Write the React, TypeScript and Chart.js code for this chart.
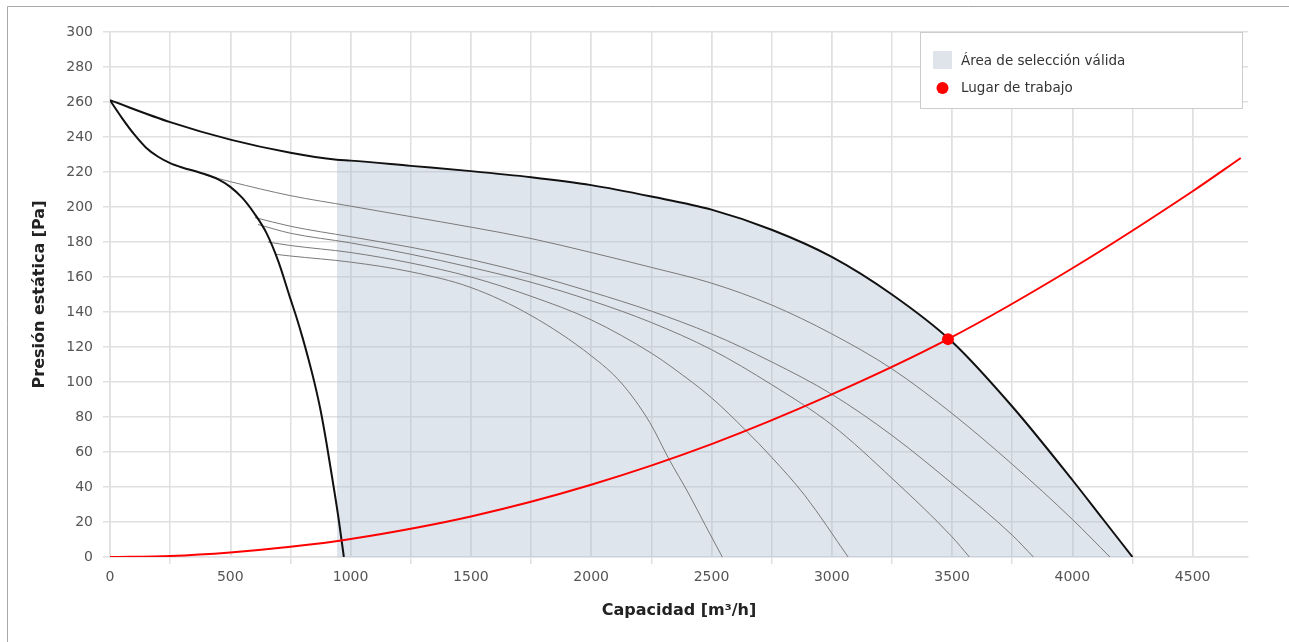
import { useEffect, useRef } from 'react';
import { Chart, registerables } from 'chart.js';

Chart.register(...registerables);

// ---- Data (m³/h, Pa) ----
const xTickValues = [0, 500, 1000, 1500, 2000, 2500, 3000, 3500, 4000, 4500];
const xMinorTickValues = [0, 250, 500, 750, 1000, 1250, 1500, 1750, 2000, 2250, 2500, 2750, 3000, 3250, 3500, 3750, 4000, 4250, 4500];

const maxCurveX = [0, 250, 500, 750, 943, 1000, 1250, 1500, 1750, 2000, 2250, 2500, 2750, 3000, 3250, 3500, 3750, 4000, 4125, 4250];
const maxCurveY = [261, 248.5, 238.5, 231, 227, 226.5, 223.5, 220.5, 217, 212.5, 206, 198.5, 187, 171.5, 150, 123, 86, 44, 22, 0];

const minCurveX = [0, 50, 100, 150, 200, 250, 300, 375, 450, 500, 550, 600, 650, 700, 750, 775, 800, 825, 850, 875, 900, 925, 950, 972];
const minCurveY = [261, 250.8, 241.6, 233.9, 228.7, 225.1, 222.6, 219.6, 215.8, 211.5, 205.2, 196.3, 185.2, 168.8, 147.5, 137, 125.5, 113, 99.5, 84, 65, 44, 22, 0];

const speed1X = [395, 500, 750, 1000, 1250, 1500, 1750, 2000, 2250, 2500, 2750, 3000, 3250, 3500, 3750, 4000, 4156];
const speed1Y = [218.3, 214.5, 206.5, 200.5, 194.5, 188.5, 182, 174, 165.5, 156.5, 144, 127.5, 107.5, 82, 53, 21.5, 0];

const speed2X = [602, 750, 1000, 1250, 1500, 1750, 2000, 2250, 2500, 2750, 3000, 3250, 3500, 3750, 3838];
const speed2Y = [194, 189, 183, 177, 170, 161.5, 151.5, 140.5, 127.5, 111.5, 93, 69.5, 42, 12.5, 0];

const speed3X = [615, 750, 1000, 1250, 1500, 1750, 2000, 2250, 2500, 2750, 3000, 3250, 3500, 3572];
const speed3Y = [190, 185, 179.5, 173, 165.5, 157, 146.5, 134, 118.5, 98.5, 75.5, 45, 11.5, 0];

const speed4X = [656, 750, 1000, 1250, 1500, 1750, 2000, 2250, 2340, 2500, 2645, 2750, 2889, 3068];
const speed4Y = [180, 178, 174, 168, 160, 149, 135.5, 116.5, 108, 91, 72, 57, 35, 0];

const speed5X = [686, 750, 1000, 1250, 1500, 1750, 2000, 2125, 2243, 2323, 2406, 2475, 2545];
const speed5Y = [173, 172, 168.5, 163, 154, 138, 115, 99.5, 77, 56, 36, 18, 0];

const systemX = [0, 250, 500, 750, 1000, 1500, 2000, 2500, 3000, 3483, 4000, 4500, 4700];
const systemY = [0, 0.6, 2.6, 5.8, 10.3, 23.2, 41.3, 64.5, 92.9, 124.5, 165, 209, 228];

const selectionStartX = 943;
const workPointX = [3483];
const workPointY = [124.5];

const legendLabels = ['Área de selección válida', 'Lugar de trabajo'];
const xTitle = 'Capacidad [m³/h]';
const yTitle = 'Presión estática [Pa]';

const zip = (xs: number[], ys: number[]) => xs.map((x, i) => ({ x, y: ys[i] }));

const FONT = "'DejaVu Sans', Verdana, sans-serif";
const GRID = '#e0e0e0';
const FILL = 'rgba(170,186,208,0.38)';
const TICK_TEXT = '#555555';
const NONE = 'rgba(0,0,0,0)';

const framePlugin = {
  id: 'frame',
  beforeDraw(chart: any) {
    const ctx = chart.ctx;
    ctx.save();
    ctx.fillStyle = '#ffffff';
    ctx.fillRect(0, 0, chart.width, chart.height);
    ctx.strokeStyle = '#a8a8a8';
    ctx.lineWidth = 1;
    ctx.beginPath();
    ctx.moveTo(7.5, chart.height);
    ctx.lineTo(7.5, 6.5);
    ctx.lineTo(chart.width, 6.5);
    ctx.stroke();
    ctx.restore();
  },
};

const legendPlugin = {
  id: 'boxLegend',
  afterDraw(chart: any) {
    const ctx = chart.ctx;
    const area = chart.chartArea;
    const right = area.right - 6;
    const left = right - 322;
    const top = area.top;
    const h = 76;
    ctx.save();
    ctx.fillStyle = '#ffffff';
    ctx.fillRect(left, top, right - left, h);
    ctx.strokeStyle = '#cccccc';
    ctx.lineWidth = 1;
    ctx.strokeRect(left + 0.5, top + 0.5, right - left, h);
    ctx.fillStyle = '#dfe4eb';
    ctx.fillRect(left + 13, top + 19, 19, 18);
    ctx.fillStyle = '#ff0000';
    ctx.beginPath();
    ctx.arc(left + 22.5, top + 56, 6, 0, Math.PI * 2);
    ctx.fill();
    ctx.fillStyle = '#333333';
    ctx.font = `13.5px ${FONT}`;
    ctx.textBaseline = 'middle';
    ctx.fillText(legendLabels[0], left + 41, top + 29);
    ctx.fillText(legendLabels[1], left + 41, top + 56);
    ctx.restore();
  },
};

export default function App() {
  const ref = useRef<HTMLCanvasElement>(null);
  useEffect(() => {
    const canvas = ref.current!;
    const thin = (xs: number[], ys: number[]) => ({
      data: zip(xs, ys),
      borderColor: '#7a7a7a',
      borderWidth: 1,
      pointRadius: 0,
      fill: false,
      cubicInterpolationMode: 'monotone' as const,
      order: 3,
    });
    const fillX = maxCurveX.filter((x) => x >= selectionStartX);
    const fillY = maxCurveY.filter((_, i) => maxCurveX[i] >= selectionStartX);
    const isMajor = (v: number) => xTickValues.includes(v);
    const chart = new Chart(canvas, {
      type: 'line',
      data: {
        datasets: [
          {
            data: zip(workPointX, workPointY),
            showLine: false,
            pointRadius: 6,
            pointHoverRadius: 6,
            pointBackgroundColor: '#ff0000',
            pointBorderWidth: 0,
            borderColor: '#ff0000',
            order: 0,
          },
          {
            data: zip(systemX, systemY),
            borderColor: '#ff0000',
            borderWidth: 2,
            pointRadius: 0,
            fill: false,
            cubicInterpolationMode: 'monotone',
            order: 1,
          },
          {
            data: zip(maxCurveX, maxCurveY),
            borderColor: '#111111',
            borderWidth: 2,
            pointRadius: 0,
            fill: false,
            cubicInterpolationMode: 'monotone',
            order: 2,
          },
          {
            data: zip(minCurveX, minCurveY),
            borderColor: '#111111',
            borderWidth: 2,
            pointRadius: 0,
            fill: false,
            cubicInterpolationMode: 'monotone',
            order: 2,
          },
          thin(speed1X, speed1Y),
          thin(speed2X, speed2Y),
          thin(speed3X, speed3Y),
          thin(speed4X, speed4Y),
          thin(speed5X, speed5Y),
          {
            data: zip(fillX, fillY),
            borderWidth: 0,
            borderColor: NONE,
            backgroundColor: FILL,
            pointRadius: 0,
            fill: 'origin',
            cubicInterpolationMode: 'monotone',
            order: 4,
          },
        ],
      },
      options: {
        responsive: false,
        animation: false,
        devicePixelRatio: 1,
        events: [],
        layout: { padding: { left: 0, top: 32, right: 41, bottom: 0 } },
        plugins: {
          legend: { display: false },
          tooltip: { enabled: false },
        },
        scales: {
          xMinor: {
            type: 'linear',
            position: 'bottom',
            axis: 'x',
            weight: 0,
            min: 0,
            max: 4730,
            afterFit: (s: any) => {
              s.height = 0;
            },
            afterBuildTicks: (s: any) => {
              s.ticks = xMinorTickValues.map((value) => ({ value }));
            },
            ticks: { display: false, autoSkip: false },
            grid: {
              color: GRID,
              lineWidth: 1.5,
              tickLength: 7,
              tickColor: (c: any) => (c.tick && isMajor(c.tick.value) ? NONE : GRID),
            },
            border: { display: false },
          },
          x: {
            type: 'linear',
            position: 'bottom',
            weight: 1,
            min: 0,
            max: 4730,
            afterFit: (s: any) => {
              s.height = 85;
            },
            afterBuildTicks: (s: any) => {
              s.ticks = xTickValues.map((value) => ({ value }));
            },
            ticks: {
              autoSkip: false,
              maxRotation: 0,
              minRotation: 0,
              padding: 5,
              color: TICK_TEXT,
              font: { family: FONT, size: 14 },
              callback: (v: any) => String(v),
            },
            grid: {
              color: GRID,
              lineWidth: 1.5,
              tickLength: 7,
              tickColor: NONE,
            },
            border: { color: GRID, width: 1.5 },
            title: {
              display: true,
              text: xTitle,
              color: '#222222',
              font: { family: FONT, size: 16, weight: 'bold' },
              padding: { top: 0, bottom: 22 },
            },
          },
          y: {
            type: 'linear',
            min: 0,
            max: 300,
            afterFit: (s: any) => {
              s.width = 110;
            },
            ticks: {
              stepSize: 20,
              padding: 10,
              color: TICK_TEXT,
              font: { family: FONT, size: 14 },
            },
            grid: { color: GRID, lineWidth: 1.5, tickLength: 7 },
            border: { color: GRID, width: 1.5 },
            title: {
              display: true,
              text: yTitle,
              color: '#222222',
              font: { family: FONT, size: 16, weight: 'bold' },
              padding: { top: 30, bottom: 0 },
            },
          },
        },
      },
      plugins: [framePlugin, legendPlugin],
    });
    return () => chart.destroy();
  }, []);
  return (
    <div style={{ position: 'fixed', left: 0, top: 0, width: 1289, height: 642, background: '#fff' }}>
      <canvas ref={ref} width={1289} height={642} style={{ display: 'block', width: 1289, height: 642 }} />
    </div>
  );
}
